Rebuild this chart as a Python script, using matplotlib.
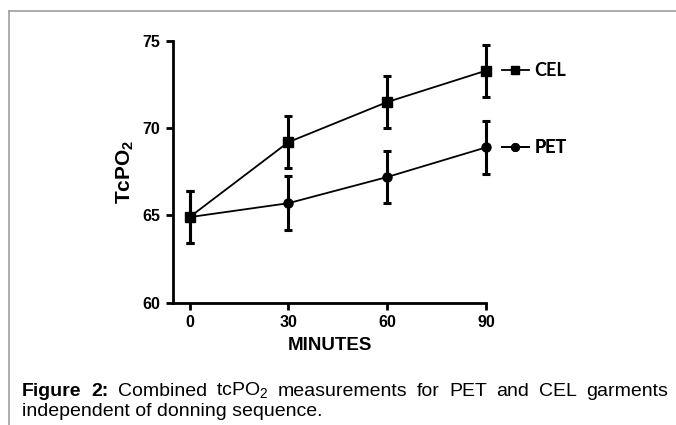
import matplotlib
matplotlib.use("Agg")
import matplotlib.pyplot as plt
from matplotlib.lines import Line2D

# data
minutes = [0, 30, 60, 90]
cel_mean = [64.9, 69.2, 71.5, 73.3]
cel_err = [1.5, 1.5, 1.5, 1.5]
pet_mean = [64.9, 65.7, 67.2, 68.9]
pet_err = [1.5, 1.55, 1.5, 1.5]
x_ticks = [0, 30, 60, 90]
y_ticks = [60, 65, 70, 75]

ARIAL = ["Liberation Sans", "DejaVu Sans"]
plt.rcParams["mathtext.fontset"] = "custom"
plt.rcParams["mathtext.rm"] = "Liberation Sans"
plt.rcParams["mathtext.bf"] = "Liberation Sans:bold"

fig = plt.figure(figsize=(6.76, 4.25), dpi=100)
ax = fig.add_axes([0.256, 0.288, 0.463, 0.6155])

ax.errorbar(minutes, pet_mean, yerr=pet_err, color="black", lw=1.3,
            marker="o", ms=6.5, elinewidth=2.2, capsize=3.2, capthick=2.2,
            clip_on=False, zorder=3)
ax.errorbar(minutes, cel_mean, yerr=cel_err, color="black", lw=1.3,
            marker="s", ms=7, elinewidth=2.2, capsize=3.2, capthick=2.2,
            clip_on=False, zorder=3)

ax.set_xlim(-5, 90)
ax.set_ylim(60, 75)
ax.set_xticks(x_ticks)
ax.set_yticks(y_ticks)
ax.spines["top"].set_visible(False)
ax.spines["right"].set_visible(False)
for s in ["left", "bottom"]:
    ax.spines[s].set_linewidth(2)
ax.tick_params(width=2, length=5, direction="out", pad=4)
for lab in ax.get_xticklabels() + ax.get_yticklabels():
    lab.set_family(ARIAL)
    lab.set_fontweight("bold")
    lab.set_fontsize(11.5)

ax.set_xlabel("MINUTES", family=ARIAL, fontweight="bold", fontsize=13.5, labelpad=5)
ax.set_ylabel(r"$\mathbf{TcPO_2}$", fontsize=15, labelpad=5)

# legend entries next to the last points
for name, mean, mk in [("CEL", cel_mean, "s"), ("PET", pet_mean, "o")]:
    h = Line2D([], [], color="black", lw=1.3, marker=mk, ms=5.5)
    leg = ax.legend([h], [name], loc="center left", bbox_to_anchor=(92.5, mean[-1]),
                    bbox_transform=ax.transData, frameon=False, handlelength=1.5,
                    handletextpad=0.3, borderaxespad=0,
                    prop={"family": ["Lato", "DejaVu Sans"], "weight": "bold", "size": 13})
    ax.add_artist(leg)

# panel frame
fig.add_artist(Line2D([9 / 676, 9 / 676], [0, 1 - 11 / 425], color="#a0a0a0", lw=1.2))
fig.add_artist(Line2D([9 / 676, 1], [1 - 11 / 425, 1 - 11 / 425], color="#a0a0a0", lw=1.2))

# caption, first line justified
fig.canvas.draw()
r = fig.canvas.get_renderer()
cap_font = {"family": ARIAL, "size": 14}
words = [("Figure", "bold"), ("2:", "bold"), ("Combined", "normal"), ("tcPO$_2$", "normal"),
         ("measurements", "normal"), ("for", "normal"), ("PET", "normal"), ("and", "normal"),
         ("CEL", "normal"), ("garments", "normal")]
x0, x1 = 22, 668
y1 = 1 - 391 / 425
arts = []
for w, wt in words:
    t = fig.text(0, y1, w, fontweight=wt, va="center", **cap_font)
    arts.append(t)
widths = [t.get_window_extent(r).width for t in arts]
gap = (x1 - x0 - sum(widths)) / (len(arts) - 1)
x = x0
for t, wd in zip(arts, widths):
    t.set_x(x / 676)
    x += wd + gap
fig.text(x0 / 676, 1 - 411 / 425, "independent of donning sequence.", va="center", **cap_font)

fig.savefig("out.png", dpi=100)
